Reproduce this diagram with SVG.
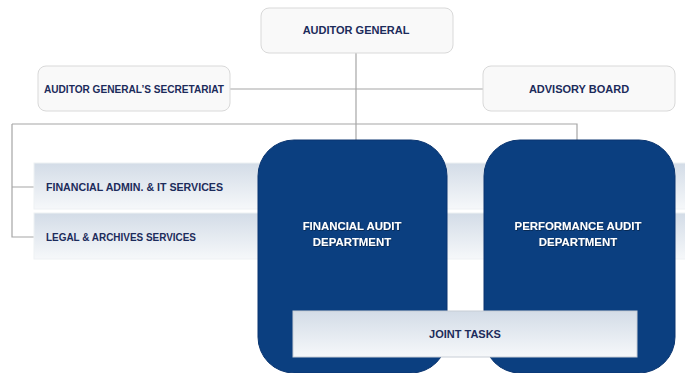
<svg xmlns="http://www.w3.org/2000/svg" width="685" height="373" viewBox="0 0 685 373">
<defs>
<linearGradient id="bar" x1="0" y1="0" x2="0" y2="1">
<stop offset="0" stop-color="#d3dce7"/>
<stop offset="1" stop-color="#f6f8fa"/>
</linearGradient>
<filter id="sh" x="-10%" y="-30%" width="120%" height="160%">
<feDropShadow dx="0.6" dy="0.6" stdDeviation="0.4" flood-color="#000" flood-opacity="0.6"/>
</filter>
</defs>
<style>
.box{fill:#f9f9f9;stroke:#d9d9d9;stroke-width:1}
.bar{fill:url(#bar);stroke:#eef1f4;stroke-width:1}
.dept{fill:#0b3f80;stroke:#0a3570;stroke-width:1}
.lbl{font-family:"Liberation Sans",Arial,sans-serif;font-weight:bold;font-size:11px;fill:#1c2b5b}
.wlbl{font-family:"Liberation Sans",Arial,sans-serif;font-weight:bold;font-size:11.4px;fill:#ffffff;text-anchor:middle}
.ln{fill:none;stroke:#a6a6a6;stroke-width:1.2}
</style>
<rect width="685" height="373" fill="#ffffff"/>
<g id="connectors">
<path class="ln" d="M356 53V140"/>
<path class="ln" d="M230 89H483"/>
<path class="ln" d="M12 124H577V140"/>
<path class="ln" d="M12 124V237H34M12 187H34"/>
</g>
<g id="financial-admin">
<rect class="bar" x="34" y="163" width="660" height="46"/>
<text class="lbl" x="46" y="191" textLength="177" lengthAdjust="spacingAndGlyphs">FINANCIAL ADMIN. &amp; IT SERVICES</text>
</g>
<g id="legal-archives">
<rect class="bar" x="34" y="213" width="660" height="46"/>
<text class="lbl" x="46" y="241" textLength="150" lengthAdjust="spacingAndGlyphs">LEGAL &amp; ARCHIVES SERVICES</text>
</g>
<g id="auditor-general">
<rect class="box" x="261" y="8" width="192" height="45" rx="8"/>
<text class="lbl" x="356" y="34" text-anchor="middle">AUDITOR GENERAL</text>
</g>
<g id="secretariat">
<rect class="box" x="38" y="66" width="192" height="45" rx="8"/>
<text class="lbl" x="44" y="93" textLength="180" lengthAdjust="spacingAndGlyphs">AUDITOR GENERAL’S  SECRETARIAT</text>
</g>
<g id="advisory-board">
<rect class="box" x="483" y="66" width="192" height="45" rx="8"/>
<text class="lbl" x="579" y="93" text-anchor="middle">ADVISORY BOARD</text>
</g>
<g id="financial-audit">
<rect class="dept" x="258" y="140" width="189" height="233" rx="36"/>
<text class="wlbl" x="352" y="230" filter="url(#sh)">FINANCIAL AUDIT</text>
<text class="wlbl" x="352" y="246" filter="url(#sh)">DEPARTMENT</text>
</g>
<g id="performance-audit">
<rect class="dept" x="484" y="140" width="191" height="233" rx="36"/>
<text class="wlbl" x="578" y="230" filter="url(#sh)">PERFORMANCE AUDIT</text>
<text class="wlbl" x="578" y="246" filter="url(#sh)">DEPARTMENT</text>
</g>
<g id="joint-tasks">
<rect class="bar" x="293" y="311" width="344" height="46" style="stroke:#c8ced6"/>
<text class="lbl" x="465" y="338" text-anchor="middle">JOINT TASKS</text>
</g>
</svg>
